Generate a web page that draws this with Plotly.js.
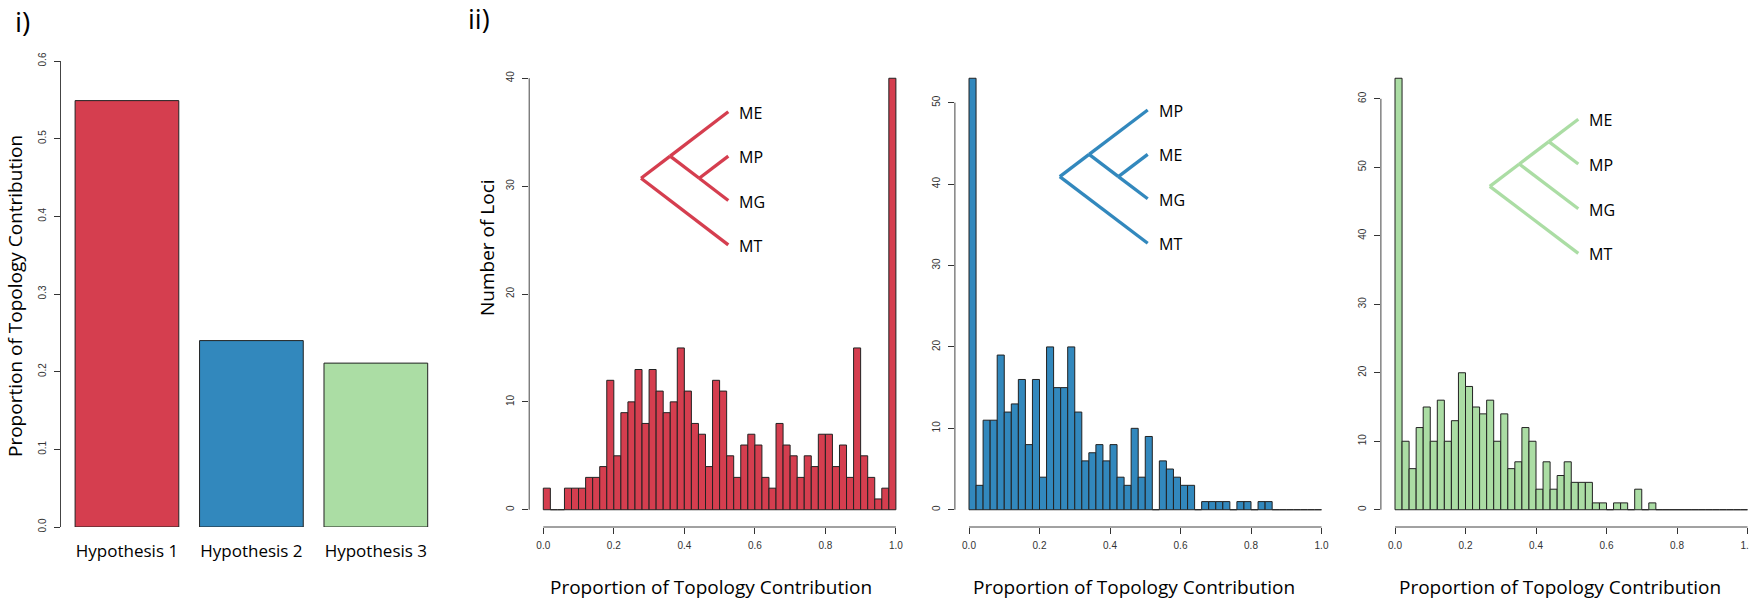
<!DOCTYPE html>
<html>
<head>
<meta charset="utf-8">
<script src="https://cdn.plot.ly/plotly-3.0.1.min.js"></script>
<style>html,body{margin:0;padding:0;background:#fff;}#chart{width:1749px;height:599px;}</style>
</head>
<body>
<div id="chart"></div>
<script>
// ---------------- DATA ----------------
const hypotheses = ["Hypothesis 1", "Hypothesis 2", "Hypothesis 3"];
const contribution = [0.549, 0.240, 0.211];
const colors = ["#D53E4F", "#3288BD", "#ABDDA4"];

const binStart = 0.0;
const binWidth = 0.02;
const countsH1 = [2,0,0,2,2,2,3,3,4,12, 5,9,10,13,8,13,11,9,10,15, 11,8,7,4,12,11,5,3,6,7, 6,3,2,8,6,5,3,5,4,7, 7,4,6,3,15,5,3,1,2,40];
const countsH2 = [53,3,11,11,19,12,13,16,8,16, 4,20,15,15,20,12,6,7,8,6, 8,4,3,10,4,9,0,6,5,4, 3,3,0,1,1,1,1,0,1,1, 0,1,1,0,0,0,0,0,0,0];
const countsH3 = [63,10,6,12,15,10,16,10,13,20, 18,15,14,16,10,14,6,7,12,10, 3,7,3,5,7,4,4,4,1,1, 0,1,1,0,3,0,1,0,0,0, 0,0,0,0,0,0,0,0,0,0];

const xTickVals = [0, 0.2, 0.4, 0.6, 0.8, 1.0];
const xTickText = ["0.0", "0.2", "0.4", "0.6", "0.8", "1.0"];
const yTicksH1 = [0, 10, 20, 30, 40];
const yTicksH2 = [0, 10, 20, 30, 40, 50];
const yTicksH3 = [0, 10, 20, 30, 40, 50, 60];
const barTicks = [0, 0.1, 0.2, 0.3, 0.4, 0.5, 0.6];

// tree topologies (top-to-bottom leaf order)
const treeH1 = [["ME", ["MP", "MG"]], "MT"];
const treeH2 = [["MP", ["ME", "MG"]], "MT"];
const treeH3 = [[["ME", "MP"], "MG"], "MT"];

const xTitle = "Proportion of Topology Contribution";
const yTitleLeft = "Proportion of Topology Contribution";
const yTitleHist = "Number of Loci";

// ---------------- LAYOUT HELPERS ----------------
const W = 1749, H = 599;
const px = x => x / W;
const py = y => 1 - y / H;
const yDom = [py(527), py(61)];
const TXT = "Open Sans, Lato, sans-serif";
const TICKF = {family: "Liberation Sans, Arial, sans-serif", size: 10, color: "#333"};

const histCfg = [
  {counts: countsH1, left: 529.2, right: 910.0, yticks: yTicksH1, tree: treeH1,
   tip: 728.3, top: 111.7, sp: 44.4, k: 1.31, title: 711},
  {counts: countsH2, left: 954.9, right: 1335.6, yticks: yTicksH2, tree: treeH2,
   tip: 1147.7, top: 110.0, sp: 44.4, k: 1.32, title: 1134},
  {counts: countsH3, left: 1380.9, right: 1761.6, yticks: yTicksH3, tree: treeH3,
   tip: 1578.3, top: 119.3, sp: 44.7, k: 1.32, title: 1560}
];

const traces = [];
const shapes = [];
const annotations = [];
const layout = {
  width: W, height: H,
  margin: {l: 0, r: 0, t: 0, b: 0},
  paper_bgcolor: "#fff", plot_bgcolor: "rgba(0,0,0,0)",
  showlegend: false,
  font: {family: TXT, color: "#000"},
};

// ---- panel i) bar chart ----
traces.push({
  type: "bar", x: hypotheses, y: contribution, width: 1 / 1.2,
  marker: {color: colors, line: {color: "#222", width: 1}},
  xaxis: "x", yaxis: "y", hoverinfo: "skip"
});
layout.xaxis = {
  domain: [px(61), px(441.8)], range: [-0.53, 2.53], anchor: "y",
  showline: false, showgrid: false, zeroline: false, ticks: "",
  tickfont: {family: TXT, size: 17, color: "#000"}, ticklabelstandoff: 12
};
layout.yaxis = {
  domain: yDom, range: [0, 0.6], anchor: "x",
  tickvals: barTicks, tickformat: ".1f", tickangle: -90,
  ticks: "outside", ticklen: 6, tickcolor: "#333",
  showline: true, linecolor: "#444", linewidth: 1,
  showgrid: false, zeroline: false, tickfont: TICKF, ticklabelstandoff: 4
};

// ---- panel ii) histograms ----
histCfg.forEach((c, i) => {
  const n = i + 2;
  const xa = "x" + n, ya = "y" + n;
  const ymax = Math.max(...c.counts);
  const pad = ymax * 0.04;
  traces.push({
    type: "bar", x0: binStart + binWidth / 2, dx: binWidth, y: c.counts, width: binWidth,
    marker: {color: colors[i], line: {color: "#222", width: 1}},
    xaxis: xa, yaxis: ya, hoverinfo: "skip"
  });
  const pxPerUnit = (c.right - c.left) / 1.08;
  const rightPx = Math.min(c.right, W);
  const xmax = -0.04 + (rightPx - c.left) / pxPerUnit;
  layout["xaxis" + n] = {
    domain: [px(c.left), px(rightPx)], range: [-0.04, xmax], anchor: ya,
    tickvals: xTickVals, ticktext: xTickText, ticks: "outside", ticklen: 6, tickcolor: "#333",
    showline: false, showgrid: false, zeroline: false, tickfont: TICKF, ticklabelstandoff: 3,
    ticklabeloverflow: "allow"
  };
  layout["yaxis" + n] = {
    domain: yDom, range: [-pad, ymax + pad], anchor: xa,
    tickvals: c.yticks, tickangle: -90, ticks: "outside", ticklen: 6, tickcolor: "#333",
    showline: false, showgrid: false, zeroline: false, tickfont: TICKF, ticklabelstandoff: 4
  };
  // axis lines spanning first to last tick (R style)
  shapes.push({type: "line", xref: xa, yref: "paper", x0: 0, x1: 1, y0: yDom[0], y1: yDom[0],
    line: {color: "#444", width: 1}});
  shapes.push({type: "line", xref: "paper", yref: ya, x0: px(c.left), x1: px(c.left),
    y0: c.yticks[0], y1: c.yticks[c.yticks.length - 1], line: {color: "#444", width: 1}});

  // ---- slanted cladogram ----
  let leafIdx = 0;
  function place(node) {
    if (typeof node === "string") {
      const y = c.top + c.sp * (leafIdx++);
      const p = {x: c.tip, y: y, lo: y, hi: y, name: node};
      annotations.push({xref: "paper", yref: "paper", x: px(c.tip + 9), y: py(y + 1),
        xanchor: "left", yanchor: "middle", showarrow: false, text: node,
        font: {family: TXT, size: 16, color: "#000"}});
      return p;
    }
    const kids = node.map(place);
    const lo = Math.min(...kids.map(k => k.lo)), hi = Math.max(...kids.map(k => k.hi));
    const p = {x: c.tip - (hi - lo) / 2 * c.k, y: (lo + hi) / 2, lo: lo, hi: hi};
    kids.forEach(k => shapes.push({type: "line", xref: "paper", yref: "paper",
      x0: px(p.x), y0: py(p.y), x1: px(k.x), y1: py(k.y),
      line: {color: colors[i], width: 3.3}}));
    return p;
  }
  place(c.tree);

  annotations.push({xref: "paper", yref: "paper", x: px(c.title), y: py(587),
    xanchor: "center", yanchor: "middle", showarrow: false, text: xTitle,
    font: {family: TXT, size: 19, color: "#000"}});
});

// titles and panel labels
annotations.push({xref: "paper", yref: "paper", x: px(15), y: py(296), textangle: -90,
  xanchor: "center", yanchor: "middle", showarrow: false, text: yTitleLeft,
  font: {family: TXT, size: 19, color: "#000"}});
annotations.push({xref: "paper", yref: "paper", x: px(487), y: py(248), textangle: -90,
  xanchor: "center", yanchor: "middle", showarrow: false, text: yTitleHist,
  font: {family: TXT, size: 19, color: "#000"}});
annotations.push({xref: "paper", yref: "paper", x: px(22), y: py(21),
  xanchor: "center", yanchor: "middle", showarrow: false, text: "i)",
  font: {family: TXT, size: 28, color: "#000"}});
annotations.push({xref: "paper", yref: "paper", x: px(479), y: py(19),
  xanchor: "center", yanchor: "middle", showarrow: false, text: "ii)",
  font: {family: TXT, size: 27, color: "#000"}});

layout.shapes = shapes;
layout.annotations = annotations;

Plotly.newPlot("chart", traces, layout, {displayModeBar: false, staticPlot: true});
</script>
</body>
</html>
